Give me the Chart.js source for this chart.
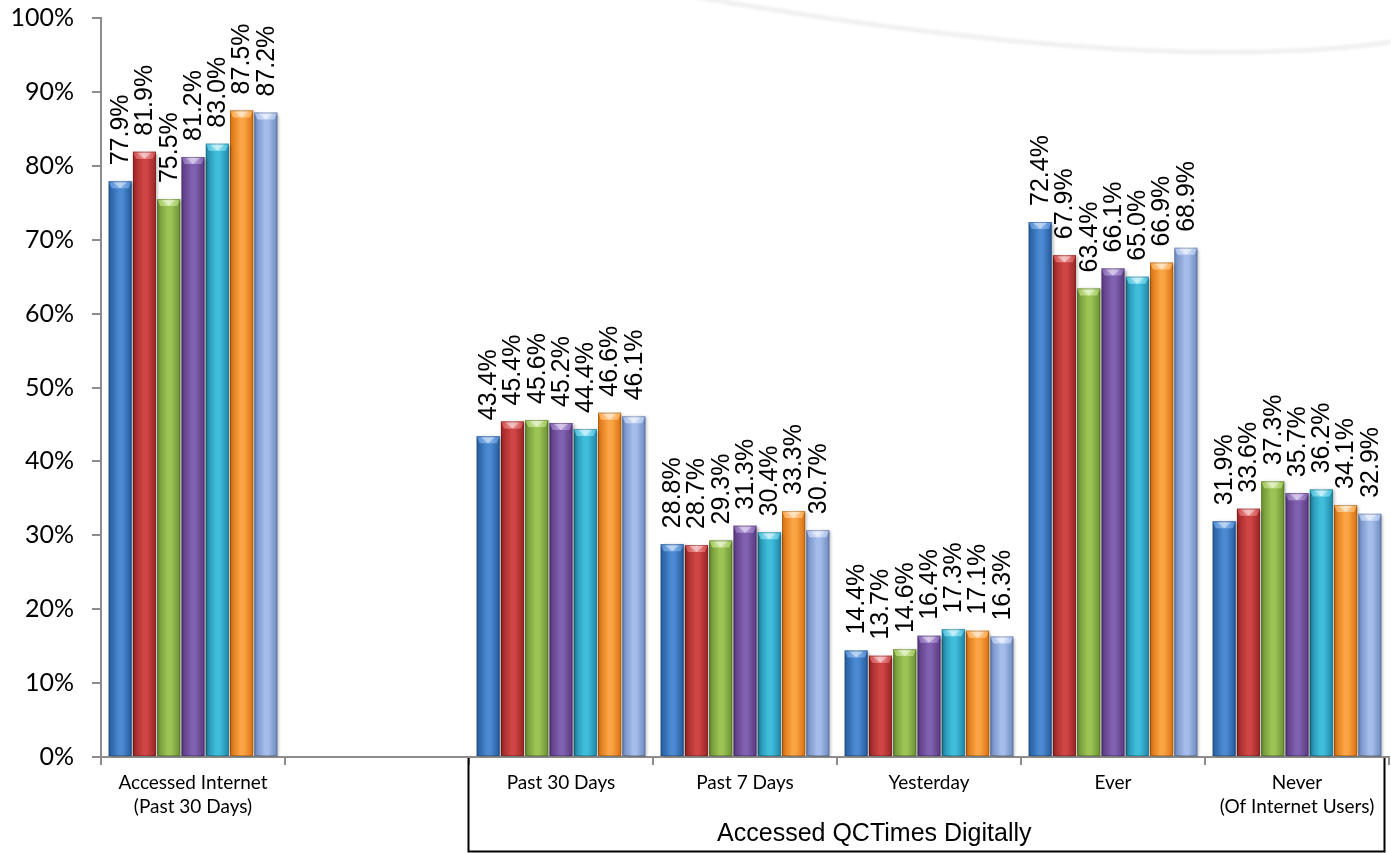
<!DOCTYPE html>
<html>
<head>
<meta charset="utf-8">
<script src="https://cdn.jsdelivr.net/npm/chart.js@4/dist/chart.umd.min.js"></script>
<style>
  html, body { margin: 0; padding: 0; background: #ffffff; }
  #wrap { width: 1391px; height: 853px; }
</style>
</head>
<body>
<div id="wrap"><canvas id="chart" width="1391" height="853"></canvas></div>
<script>
// Categories along the x axis (the second slot is an intentional spacer)
const categories = [
  ["Accessed Internet", "(Past 30 Days)"],
  "",
  "Past 30 Days",
  "Past 7 Days",
  "Yesterday",
  "Ever",
  ["Never", "(Of Internet Users)"]
];

// Percent values, one array per bar colour
const seriesBlue      = [77.9, null, 43.4, 28.8, 14.4, 72.4, 31.9];
const seriesRed       = [81.9, null, 45.4, 28.7, 13.7, 67.9, 33.6];
const seriesGreen     = [75.5, null, 45.6, 29.3, 14.6, 63.4, 37.3];
const seriesPurple    = [81.2, null, 45.2, 31.3, 16.4, 66.1, 35.7];
const seriesCyan      = [83.0, null, 44.4, 30.4, 17.3, 65.0, 36.2];
const seriesOrange    = [87.5, null, 46.6, 33.3, 17.1, 66.9, 34.1];
const seriesLightBlue = [87.2, null, 46.1, 30.7, 16.3, 68.9, 32.9];

const yTickValues = [0, 10, 20, 30, 40, 50, 60, 70, 80, 90, 100];
const groupTitle = "Accessed QCTimes Digitally";

// Edge / centre shades for the cylinder-like bar fill
const palette = [
  { edge: "#235a9c", mid: "#4b8ad2", cap: "#8fb8ea" },
  { edge: "#9a2424", mid: "#d04545", cap: "#ec9a9a" },
  { edge: "#6a9030", mid: "#9cc455", cap: "#cfe79f" },
  { edge: "#58397f", mid: "#8060b0", cap: "#bba4dc" },
  { edge: "#1f87a6", mid: "#3fbedb", cap: "#9fe4f3" },
  { edge: "#d8700f", mid: "#fba445", cap: "#fdd19c" },
  { edge: "#6c88bd", mid: "#a4bcea", cap: "#d6e2f8" }
];

const allSeries = [seriesBlue, seriesRed, seriesGreen, seriesPurple, seriesCyan, seriesOrange, seriesLightBlue];
const CAT_PCT = 0.924;
const BAR_PCT = 0.95;

// Horizontal gradient for each bar, computed from the category scale
function barFill(ctx) {
  const chart = ctx.chart;
  const xs = chart.scales.x;
  if (!xs || !chart.chartArea) return palette[ctx.datasetIndex].mid;
  const n = allSeries.length;
  const catW = xs.width / categories.length;
  const slot = catW * CAT_PCT / n;
  const center = xs.getPixelForValue(ctx.dataIndex);
  const left = center - catW * CAT_PCT / 2 + slot * ctx.datasetIndex + slot * (1 - BAR_PCT) / 2;
  const w = slot * BAR_PCT;
  const p = palette[ctx.datasetIndex];
  const g = chart.ctx.createLinearGradient(left, 0, left + w, 0);
  g.addColorStop(0, p.edge);
  g.addColorStop(0.45, p.mid);
  g.addColorStop(0.6, p.mid);
  g.addColorStop(1, p.edge);
  return g;
}

const datasets = allSeries.map((data, i) => ({
  label: "S" + (i + 1),
  data: data,
  backgroundColor: barFill,
  borderWidth: 0,
  categoryPercentage: CAT_PCT,
  barPercentage: BAR_PCT
}));

const decorPlugin = {
  id: "decor",
  beforeDraw(chart) {
    const c = chart.ctx;
    c.save();
    c.fillStyle = "#ffffff";
    c.fillRect(0, 0, chart.width, chart.height);
    // faint background swoosh
    c.strokeStyle = "#f1f1f1";
    c.lineWidth = 5;
    c.filter = "blur(1px)";
    c.beginPath();
    c.moveTo(chart.width * 0.5, -3);
    c.quadraticCurveTo(chart.width * 0.83, 76, chart.width, 42);
    c.stroke();
    c.restore();
  },
  beforeDatasetsDraw(chart) {
    const c = chart.ctx;
    c.save();
    c.shadowColor = "rgba(0,0,0,0.28)";
    c.shadowBlur = 3;
    c.shadowOffsetX = 2;
    c.shadowOffsetY = 1;
  },
  afterDatasetsDraw(chart) {
    const c = chart.ctx;
    c.restore();
    // bevelled tops
    chart.data.datasets.forEach((ds, di) => {
      const meta = chart.getDatasetMeta(di);
      const p = palette[di];
      meta.data.forEach((el, i) => {
        if (ds.data[i] == null) return;
        const l = el.x - el.width / 2, r = el.x + el.width / 2, t = el.y;
        c.save();
        c.beginPath();
        c.moveTo(l, t);
        c.lineTo(r, t);
        c.lineTo(r - 3, t + 7);
        c.lineTo(l + 3, t + 7);
        c.closePath();
        const g = c.createLinearGradient(l, 0, r, 0);
        g.addColorStop(0, p.mid);
        g.addColorStop(0.5, p.cap);
        g.addColorStop(1, p.mid);
        c.fillStyle = g;
        c.fill();
        c.beginPath();
        c.moveTo(el.x - 7, t + 1);
        c.lineTo(el.x + 7, t + 1);
        c.lineTo(el.x, t + 7);
        c.closePath();
        c.fillStyle = "rgba(255,255,255,0.4)";
        c.fill();
        c.strokeStyle = "rgba(0,0,0,0.2)";
        c.lineWidth = 1;
        c.strokeRect(l + 0.5, t + 0.5, el.width - 1, el.base - t - 1);
        c.restore();
      });
    });
    // value labels, rotated
    c.save();
    c.fillStyle = "#000000";
    c.font = '25px "Liberation Sans", Arial, sans-serif';
    c.textAlign = "left";
    c.textBaseline = "middle";
    chart.data.datasets.forEach((ds, di) => {
      const meta = chart.getDatasetMeta(di);
      meta.data.forEach((el, i) => {
        const v = ds.data[i];
        if (v == null) return;
        c.save();
        c.translate(el.x, el.y - 16);
        c.rotate(-Math.PI / 2);
        c.fillText(v.toFixed(1) + "%", 0, 1);
        c.restore();
      });
    });
    c.restore();
  },
  afterDraw(chart) {
    // bracket box under the digital-access categories
    const c = chart.ctx;
    const xs = chart.scales.x;
    const area = chart.chartArea;
    const half = (xs.getPixelForValue(1) - xs.getPixelForValue(0)) / 2;
    const left = Math.round(xs.getPixelForValue(2) - half) - 0.5;
    const right = Math.round(area.right) - 4.5;
    const top = area.bottom + 1;
    const bottom = chart.height - 1.5;
    c.save();
    c.strokeStyle = "#000000";
    c.lineWidth = 2;
    c.beginPath();
    c.moveTo(left, top);
    c.lineTo(left, bottom);
    c.lineTo(right, bottom);
    c.lineTo(right, top);
    c.stroke();
    c.fillStyle = "#000000";
    c.font = '25px "Liberation Sans", Arial, sans-serif';
    c.textAlign = "center";
    c.textBaseline = "middle";
    c.fillText(groupTitle, left + (right - left) * 0.443, bottom - 17);
    c.restore();
  }
};

new Chart(document.getElementById("chart"), {
  type: "bar",
  data: { labels: categories, datasets: datasets },
  options: {
    responsive: false,
    animation: false,
    devicePixelRatio: 1,
    layout: { padding: { top: 18, right: 2, left: 0, bottom: 0 } },
    plugins: { legend: { display: false }, tooltip: { enabled: false } },
    scales: {
      x: {
        grid: { display: true, drawOnChartArea: false, drawTicks: true, tickLength: 8, color: "#8c8c8c", lineWidth: 2, offset: true },
        border: { color: "#8c8c8c", width: 2 },
        ticks: { color: "#000000", font: { family: "Lato", size: 19, lineHeight: 1.25 }, padding: 6, maxRotation: 0, autoSkip: false },
        afterFit(s) { s.height = 96; }
      },
      y: {
        min: 0,
        max: 100,
        afterBuildTicks(s) { s.ticks = yTickValues.map(v => ({ value: v })); },
        grid: { display: true, drawOnChartArea: false, drawTicks: true, tickLength: 9, color: "#8c8c8c", lineWidth: 2 },
        border: { color: "#8c8c8c", width: 2 },
        ticks: { color: "#000000", font: { family: "Lato", size: 25 }, padding: 18, callback: v => v + "%" },
        afterFit(s) { s.width = 101; s.paddingTop = 0; s.paddingBottom = 0; }
      }
    }
  },
  plugins: [decorPlugin]
});
</script>
</body>
</html>
